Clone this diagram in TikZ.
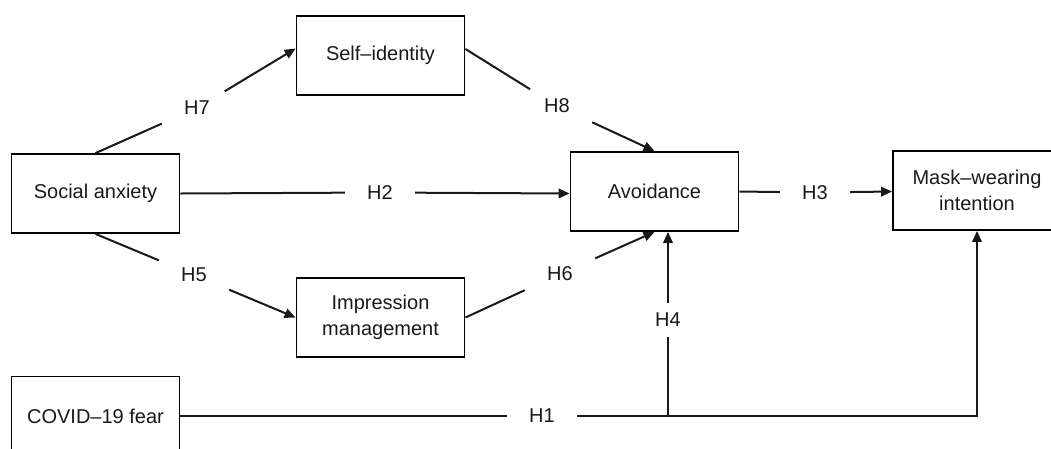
\documentclass[tikz,border=0pt]{standalone}
\usepackage{fontspec}
\setmainfont{Liberation Sans}
\usetikzlibrary{arrows.meta}
\begin{document}
\begin{tikzpicture}[x=1pt,y=-1pt,
  box/.style={draw=black,line width=1.8pt,minimum width=168pt,minimum height=79pt,inner sep=0pt,align=center,font=\fontsize{20}{26}\selectfont,text=black!90},
  hyp/.style={minimum width=70pt,minimum height=33pt,inner sep=0pt,font=\fontsize{20}{24}\selectfont,text=black!90},
  conn/.style={line width=2pt,draw=black!90},
  arr/.style={conn,-{Triangle[length=11pt,width=9.5pt]}}]
\useasboundingbox (0,0) rectangle (1051,448);
\clip (0,0) rectangle (1051,448);
% boxes
\node[box] (sa) at (95.5,193.5) {Social anxiety};
\node[box] (si) at (380.5,55.5) {Self–identity};
\node[box] (im) at (380.5,317.5) {Impression\\management};
\node[box] (av) at (654.5,191.5) {Avoidance};
\node[box] (mw) at (977,190.5) {Mask–wearing\\intention};
\node[box] (cf) at (95.5,416) {COVID–19 fear};
% hypothesis labels
\node[hyp] (h7) at (197,108) {H7};
\node[hyp] (h5) at (194,275) {H5};
\node[hyp] (h8) at (557,106) {H8};
\node[hyp] (h6) at (560,274) {H6};
\node[hyp] (h2) at (380,192.5) {H2};
\node[hyp] (h3) at (815,192.5) {H3};
\node[hyp] (h4) at (668,320) {H4};
\node[hyp] (h1) at (542,416) {H1};
% junctions
\coordinate (j4) at (668,416);
\coordinate (j3) at (mw.south |- cf.east);
% connectors
\draw[arr] (sa.north) -- (h7) -- ([yshift=7pt]si.west);
\draw[arr] (sa.south) -- (h5) -- (im.west);
\draw[arr] ([yshift=6.5pt]si.east) -- (h8) -- (av.north);
\draw[arr] (im.east) -- (h6) -- (av.south);
\draw[arr] (sa.east) -- (h2) -- (av.west |- sa.east);
\draw[arr] (av.east) -- (h3) -- (mw.west |- av.east);
\draw[arr] (j4) -- (h4) -- (j4 |- av.south);
\draw[arr] (cf.east) -- (h1) -- (j3) -- (mw.south);
\end{tikzpicture}
\end{document}
